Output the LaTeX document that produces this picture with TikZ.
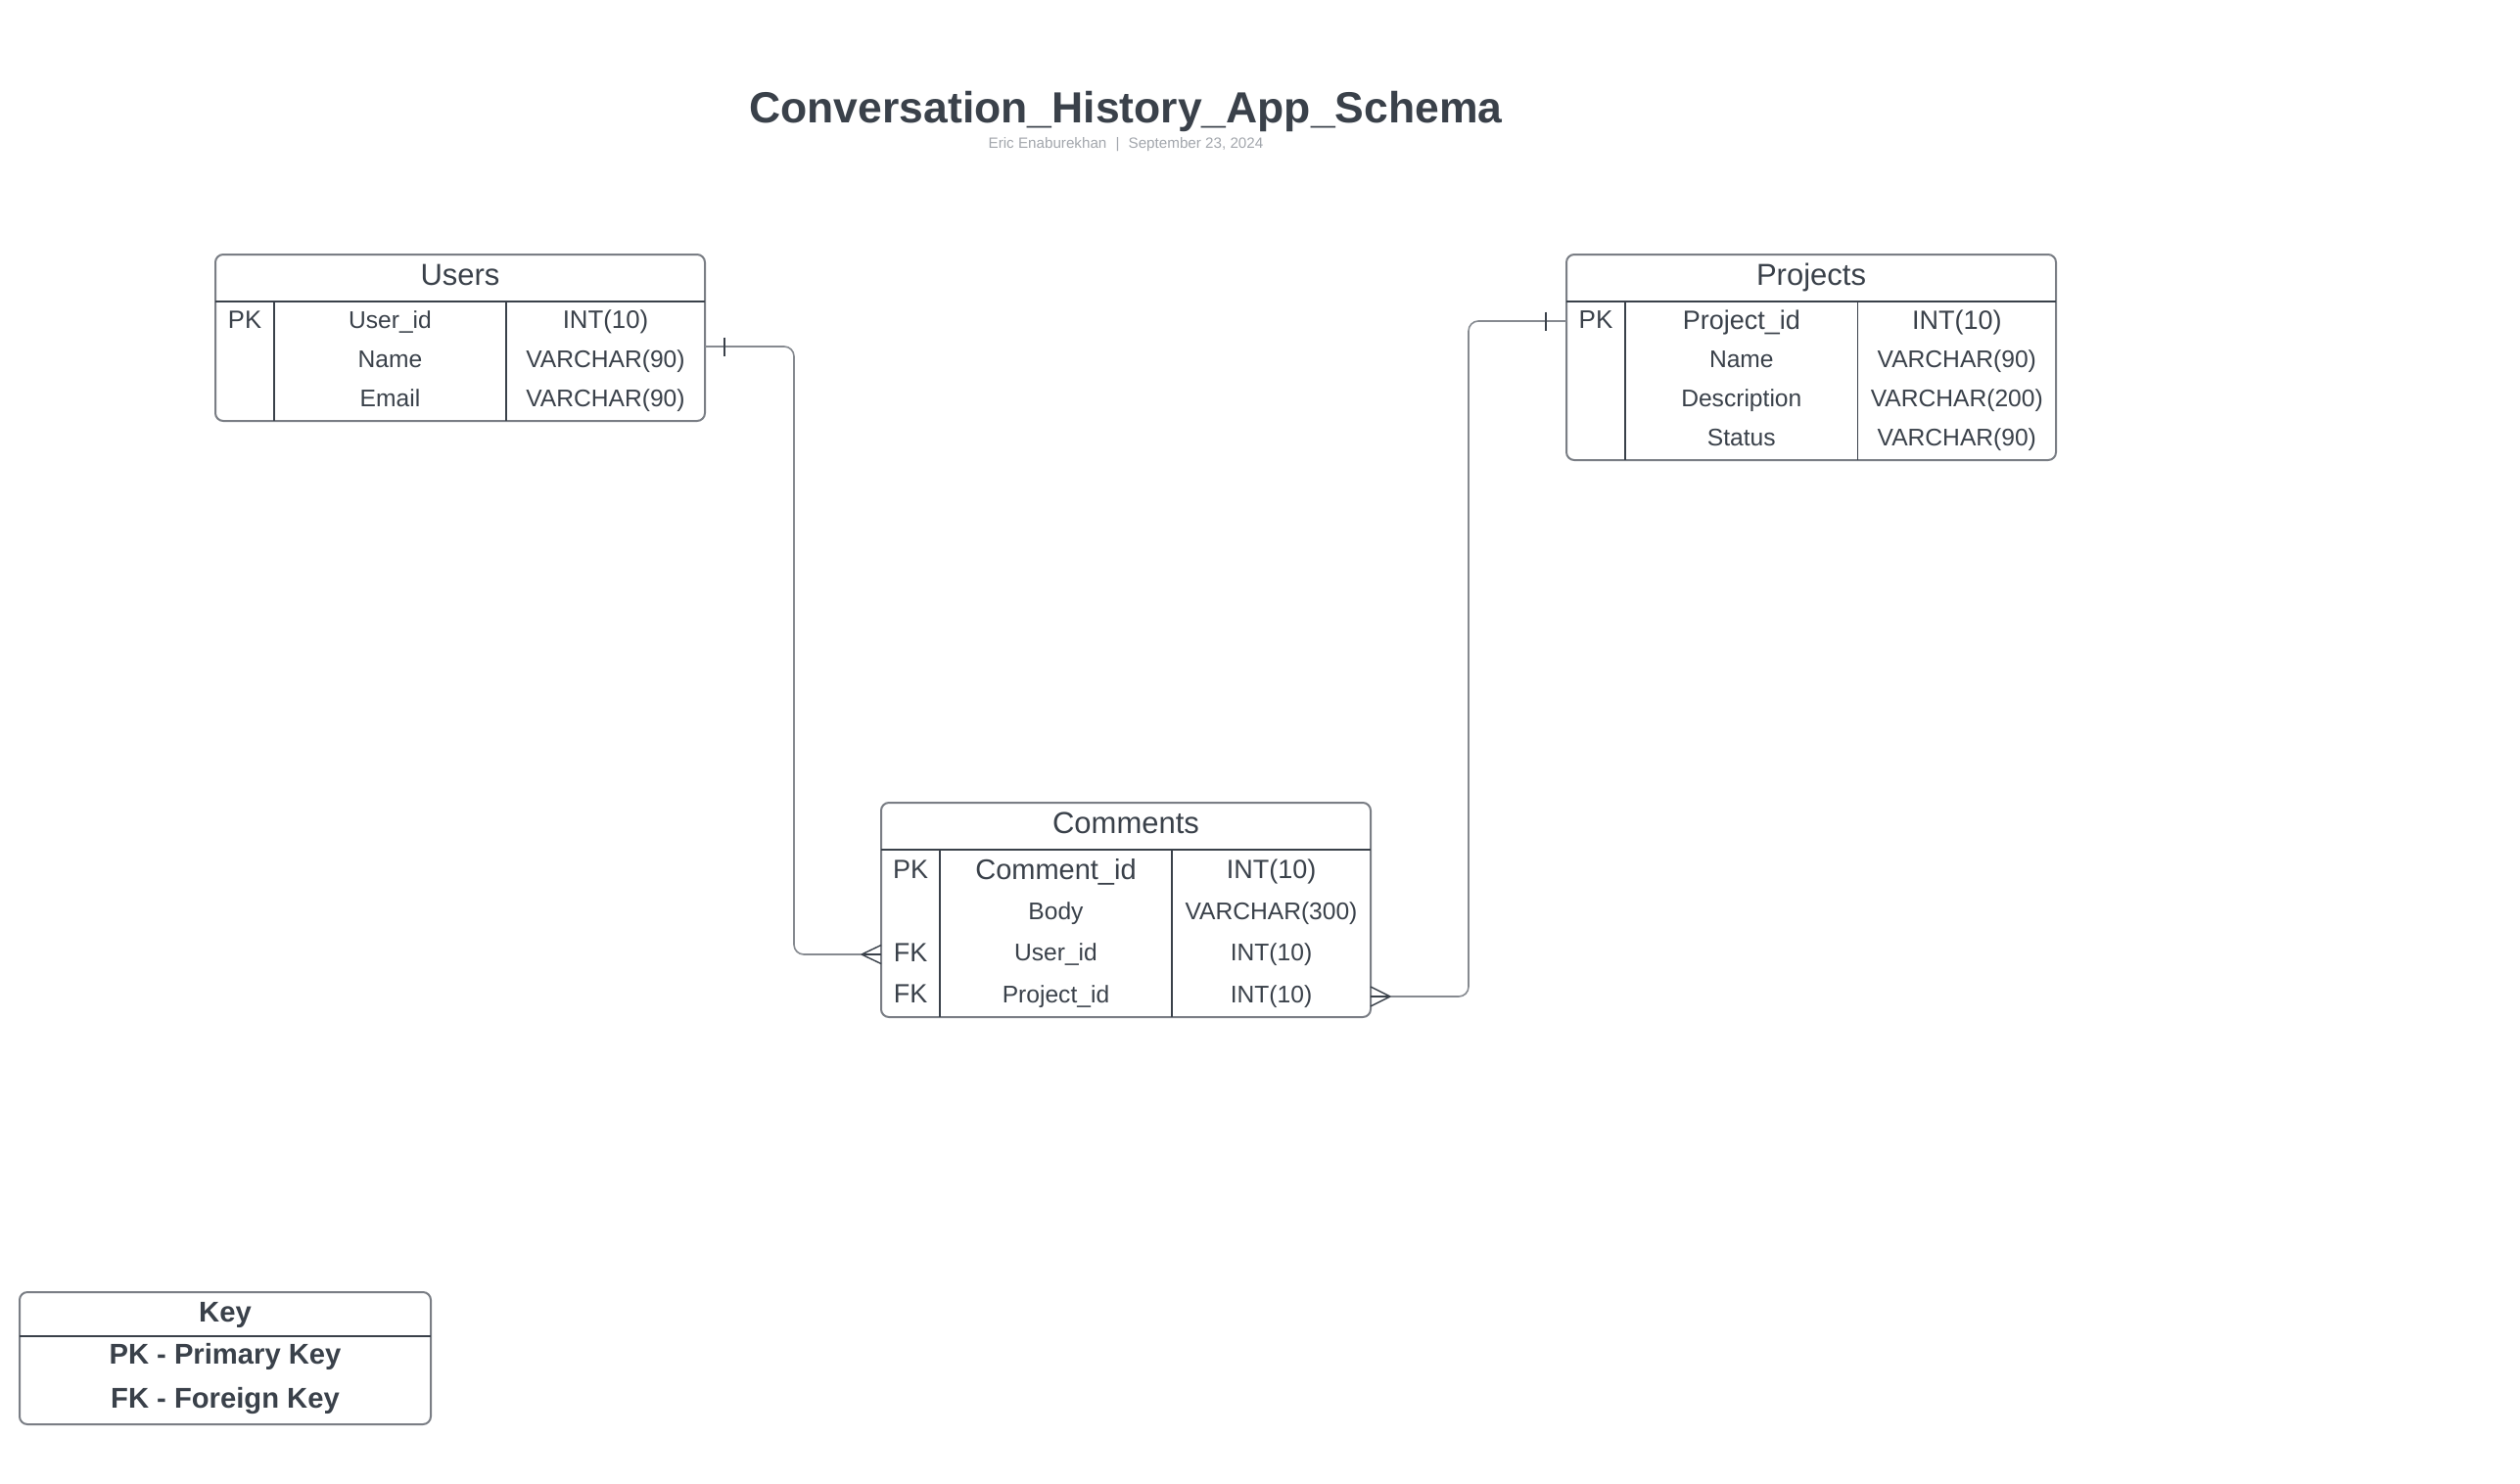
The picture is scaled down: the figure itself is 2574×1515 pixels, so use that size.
\documentclass[tikz,border=0pt]{standalone}
\usepackage{fontspec}
\setmainfont{Liberation Sans}
\usetikzlibrary{calc}
\definecolor{ink}{HTML}{3A414A}
\definecolor{frame}{HTML}{7A7E85}
\definecolor{wire}{HTML}{868A90}
\definecolor{sub}{HTML}{A3A7AD}

\newcommand{\px}[1]{\fontsize{#1}{#1}\selectfont}

\begin{document}
\begin{tikzpicture}[x=0.5pt,y=-0.5pt,
  tablebox/.style={draw=frame, line width=1pt, rounded corners=4pt,
    inner sep=0pt, outer sep=0pt, anchor=north west},
  divider/.style={draw=ink, line width=0.7pt},
  cell/.style={inner sep=0pt, anchor=base, text=ink, font=\px{12.3pt}},
  bigcell/.style={cell, font=\px{13.5pt}},
  head/.style={inner sep=0pt, anchor=base, text=ink, font=\px{15.5pt}},
  keytext/.style={inner sep=0pt, anchor=base, text=ink, font=\bfseries\px{14.6pt}},
  link/.style={draw=wire, line width=0.8pt, rounded corners=5pt},
  foot/.style={draw=ink, line width=0.7pt}
]
\useasboundingbox (0,0) rectangle (2574,1515);
\fill[white] (0,0) rectangle (2574,1515);

% title block
\node[inner sep=0pt, anchor=base, text=ink, font=\bfseries\px{22.25pt}] (title) at (1150,125)
  {Conversation\_History\_App\_Schema};
\node[inner sep=0pt, anchor=base, text=sub, font=\px{7.6pt}] (byline) at (1150,151)
  {Eric Enaburekhan\hspace{0.6em}|\hspace{0.6em}September 23, 2024};

% ---------- Users ----------
\node[tablebox, minimum width=250pt, minimum height=85pt] (users) at (220,260) {};
\draw[divider] (220,308) -- (720,308);
\draw[divider] (280,308) -- (280,430);
\draw[divider] (517,308) -- (517,430);
\node[head] (users-h) at (470,291.3) {Users};
\node[cell, font=\px{12.8pt}] (users-k1) at (250,335.2) {PK};
\node[cell] (users-n1) at (398.5,335.2) {User\_id};
\node[cell, font=\px{12.9pt}] (users-t1) at (618.5,335.6) {INT(10)};
\node[cell] (users-n2) at (398.5,375.2) {Name};
\node[cell] (users-t2) at (618.5,375.2) {VARCHAR(90)};
\node[cell] (users-n3) at (398.5,415.2) {Email};
\node[cell] (users-t3) at (618.5,415.2) {VARCHAR(90)};

% ---------- Projects ----------
\node[tablebox, minimum width=250pt, minimum height=105pt] (projects) at (1600,260) {};
\draw[divider] (1600,308) -- (2100,308);
\draw[divider] (1660,308) -- (1660,470);
\draw[divider] (1897.6,308) -- (1897.6,470);
\node[head] (projects-h) at (1850,291.3) {Projects};
\node[cell, font=\px{13pt}] (projects-k1) at (1630,335.6) {PK};
\node[bigcell] (projects-n1) at (1778.8,336) {Project\_id};
\node[bigcell] (projects-t1) at (1998.8,336) {INT(10)};
\node[cell] (projects-n2) at (1778.8,375.2) {Name};
\node[cell] (projects-t2) at (1998.8,375.2) {VARCHAR(90)};
\node[cell] (projects-n3) at (1778.8,415.2) {Description};
\node[cell] (projects-t3) at (1998.8,415.2) {VARCHAR(200)};
\node[cell] (projects-n4) at (1778.8,455.2) {Status};
\node[cell] (projects-t4) at (1998.8,455.2) {VARCHAR(90)};

% ---------- Comments ----------
\node[tablebox, minimum width=250pt, minimum height=109.5pt] (comments) at (900,820) {};
\draw[divider] (900,868) -- (1400,868);
\draw[divider] (960,868) -- (960,1039);
\draw[divider] (1197,868) -- (1197,1039);
\node[head] (comments-h) at (1150,851.3) {Comments};
\node[bigcell] (comments-k1) at (930,897.4) {PK};
\node[cell, font=\px{14.5pt}] (comments-n1) at (1078.5,898.4) {Comment\_id};
\node[bigcell] (comments-t1) at (1298.5,897.7) {INT(10)};
\node[cell] (comments-n2) at (1078.5,939.1) {Body};
\node[cell] (comments-t2) at (1298.5,939.1) {VARCHAR(300)};
\node[bigcell] (comments-k3) at (930,982.2) {FK};
\node[cell] (comments-n3) at (1078.5,981.6) {User\_id};
\node[cell] (comments-t3) at (1298.5,981.6) {INT(10)};
\node[bigcell] (comments-k4) at (930,1024.7) {FK};
\node[cell] (comments-n4) at (1078.5,1024.1) {Project\_id};
\node[cell] (comments-t4) at (1298.5,1024.1) {INT(10)};

% ---------- Key ----------
\node[tablebox, minimum width=210pt, minimum height=67.5pt] (key) at (20,1320) {};
\draw[divider] (20,1365) -- (440,1365);
\node[keytext] (key-h) at (230,1350) {Key};
\node[keytext] (key-pk) at (230,1393) {PK - Primary Key};
\node[keytext] (key-fk) at (230,1438) {FK - Foreign Key};

% ---------- relationships ----------
\coordinate (u-link) at ($(users.north east)+(0,94)$);
\coordinate (p-link) at ($(projects.north west)+(0,68)$);
\coordinate (c-user) at ($(comments.north west)+(0,155)$);
\coordinate (c-proj) at ($(comments.north east)+(0,198)$);

% Users (one) to Comments (many)
\draw[link] (u-link) -- ++(91,0) |- (c-user);
\draw[foot] ($(u-link)+(20,-9.5)$) -- ++(0,19);
\draw[foot] ($(c-user)+(-20,0)$) -- ++(20,-9.5);
\draw[foot] ($(c-user)+(-20,0)$) -- ++(20,9.5);
\draw[foot] ($(c-user)+(-20,0)$) -- (c-user);

% Projects (one) to Comments (many)
\draw[link] (p-link) -- ++(-100,0) |- (c-proj);
\draw[foot] ($(p-link)+(-21,-9.5)$) -- ++(0,19);
\draw[foot] ($(c-proj)+(20,0)$) -- ++(-20,-10);
\draw[foot] ($(c-proj)+(20,0)$) -- ++(-20,10);
\draw[foot] ($(c-proj)+(20,0)$) -- (c-proj);
\end{tikzpicture}
\end{document}
